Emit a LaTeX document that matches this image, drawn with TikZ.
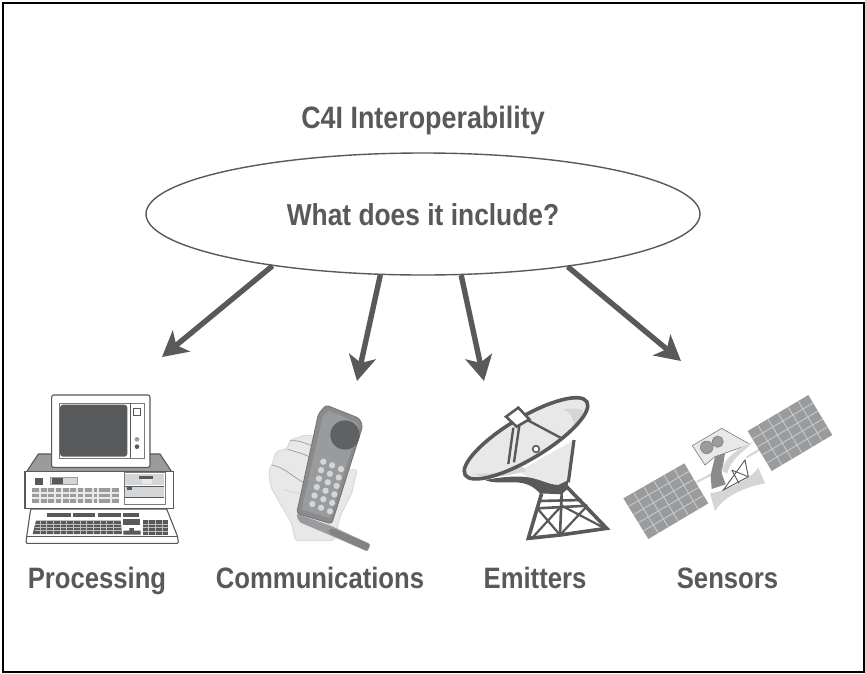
\documentclass[tikz,border=0pt]{standalone}
\usepackage{fontspec}
\setmainfont[FakeStretch=0.87]{Liberation Sans}
\usetikzlibrary{shapes.geometric,arrows.meta,calc}
\definecolor{ink}{HTML}{58595B}
\definecolor{mid}{HTML}{9A9B9D}
\definecolor{lite}{HTML}{D4D5D6}
\definecolor{pale}{HTML}{E8E8E9}
\tikzset{
 lab/.style={text=ink,font=\bfseries\fontsize{29.5}{32}\selectfont,inner sep=0pt,anchor=base},
 arrowline/.style={draw=ink,line width=5.4pt,-{Stealth[length=25pt,width=27pt,inset=6.5pt]}},
 zoomA/.style={shift={(10,380)},scale=1/3},
 zoomB/.style={shift={(250,390)},scale=1/3},
 zoomC/.style={shift={(450,385)},scale=1/3},
 zoomD/.style={shift={(615,385)},scale=1/3},
 thin ink/.style={draw=ink,line width=1.1pt},
}
\begin{document}
\begin{tikzpicture}[x=1pt,y=-1pt]
\useasboundingbox (0,0) rectangle (865,673);
\fill[white] (0,0) rectangle (865,673);
\draw[black,line width=2pt] (2.5,2.5) rectangle (863.5,671.5);

\node[lab,font=\bfseries\fontsize{30.9}{32}\selectfont] (title) at (423,128) {C4I Interoperability};
\node[ellipse,draw=ink,line width=1.4pt,minimum width=554pt,minimum height=122pt,inner sep=0pt] (q) at (423,214) {};
\node[lab,font=\bfseries\fontsize{30.3}{32}\selectfont] (ask) at (423,225) {What does it include?};

\coordinate (t1) at (162,357);
\coordinate (t2) at (357,381);
\coordinate (t3) at (484,381);
\coordinate (t4) at (681,361);
\draw[arrowline] (q.199) -- (t1);
\draw[arrowline] (q.235) -- (t2);
\draw[arrowline] (q.302) -- (t3);
\draw[arrowline] (q.340) -- (t4);

\node[lab] (l1) at (97,588) {Processing};
\node[lab] (l2) at (320,588) {Communications};
\node[lab] (l3) at (535,588) {Emitters};
\node[lab] (l4) at (727.5,588) {Sensors};

% computer
\begin{scope}[zoomA]
 \filldraw[fill=mid,thin ink] (50,275) -- (85,222) -- (450,222) -- (485,275) -- cycle;
 \filldraw[fill=white,thin ink] (45,275) rectangle (490,385);
 \filldraw[fill=white,thin ink,rounded corners=2pt] (125,45) rectangle (420,262);
 \filldraw[fill=white,draw=ink!80,line width=.8pt] (147,70) rectangle (402,234);
 \fill[ink,rounded corners=3pt] (150,74) rectangle (352,230);
 \draw[ink,line width=.7pt] (360,70) -- (360,234);
 \draw[ink,line width=.8pt] (371,84) rectangle (390,106);
 \fill[mid] (381,178) circle (7);
 \fill[ink] (381,200) circle (7);
 \fill[ink] (76,293) rectangle (100,314);
 \filldraw[fill=lite,draw=mid,line width=.5pt] (122,293) rectangle (202,314);
 \fill[ink] (125,295) rectangle (160,312);
 % vents
 \fill[mid] (67,323) rectangle (326,370);
 \foreach \xv in {88,110,132,154,176,198,220,246,262,300}
   \fill[pale] (\xv,323) rectangle +(5,47);
 \foreach \yv in {337,352}
   \fill[pale] (67,\yv) rectangle (326,\yv+4);
 % drive bay
 \filldraw[fill=white,draw=ink!80,line width=.8pt] (342,278) rectangle (465,372);
 \fill[lite] (345,282) rectangle (462,316);
 \fill[ink] (388,288) rectangle (430,296);
 \fill[pale] (395,296) rectangle (425,312);
 \fill[lite] (345,320) rectangle (462,353);
 \fill[ink] (352,322) rectangle (365,329);
 \draw[ink,line width=.7pt] (345,318) -- (462,318) (345,353) -- (462,353);
 % keyboard
 \filldraw[fill=white,thin ink,rounded corners=1pt] (62,387) -- (470,387) -- (503,470) -- (505,490) -- (48,490) -- (50,470) -- cycle;
 \draw[ink,line width=.7pt] (50,470) -- (503,470);
 \foreach \xa/\xb in {112/182,188/254,264/332,340/388}
   \fill[ink] (\xa,398) rectangle (\xb,412);
 \fill[ink] (78,422) -- (332,422) -- (336,462) -- (68,462) -- cycle;
 \fill[ink] (340,418) rectangle (390,436);
 \fill[ink] (358,444) -- (372,444) -- (372,452) -- (392,452) -- (392,464) -- (340,464) -- (340,452) -- (358,452) -- cycle;
 \fill[ink] (398,420) rectangle (474,464);
 \foreach \yv in {432,441,452}
   \draw[pale!70!ink,line width=.5pt] (74,\yv) -- (336,\yv);
 \foreach \xv in {90,110,130,150,170,190,210,230,250,270,290,310}
   \draw[pale!70!ink,line width=.5pt] (\xv,422) -- (\xv,462);
 \foreach \xv in {416,436,456}
   \draw[pale!70!ink,line width=.5pt] (\xv,420) -- (\xv,464);
 \foreach \yv in {432,443,454}
   \draw[pale!70!ink,line width=.5pt] (398,\yv) -- (474,\yv);
\end{scope}

% phone
\begin{scope}[zoomB]
 \filldraw[fill=pale,draw=lite,line width=.8pt,rounded corners=3pt] (56,240) -- (66,225) -- (78,185) -- (112,175) -- (120,150) -- (165,135) -- (200,140) -- (180,215) -- (300,240) -- (322,238) -- (305,310) -- (272,375) -- (252,452) -- (136,452) -- (125,400) -- (90,340) -- (62,290) -- cycle;
 \draw[mid,line width=.7pt] (112,178) .. controls (135,185) and (160,190) .. (182,203);
 \draw[mid,line width=.7pt] (120,152) .. controls (145,150) and (170,160) .. (190,170);
 \draw[mid,line width=.7pt] (66,225) .. controls (100,230) and (135,265) .. (165,280);
 \draw[lite,line width=.8pt] (100,300) -- (150,310);
 \filldraw[fill=mid,draw=mid,line width=.8pt,rounded corners=2pt] (140,372) -- (148,395) -- (235,432) -- (352,483) -- (360,463) -- (245,410) -- cycle;
 \fill[ink!75,rounded corners=1pt] (235,420) -- (240,432) -- (352,483) -- (360,463) -- (250,416) -- cycle;
 \filldraw[fill=ink!70,draw=ink!85,line width=.8pt,rounded corners=3pt] (205,72) -- (228,45) -- (328,85) -- (338,108) -- (245,402) -- (140,370) -- cycle;
 \fill[mid] (218,80) -- (236,62) -- (320,98) -- (326,112) -- (238,385) -- (155,358) -- cycle;
 \fill[ink!95] (285,135) circle (44);
 \foreach \r in {0,...,5}
  \foreach \c in {0,1,2}
   \fill[lite] ({220-6.6*\r+26.5*\c},{215+25.4*\r+11*\c}) circle (9.5);
\end{scope}

% dish
\begin{scope}[zoomC]
 \fill[pale] (205,260) -- (372,165) -- (358,290) -- (325,305) -- (250,285) -- cycle;
 \draw[ink,line width=3.2pt] (372,165) -- (355,292);
 \fill[ink] (105,285) .. controls (160,275) and (210,270) .. (250,280) .. controls (285,290) and (305,300) .. (325,300) -- (355,285) -- (352,312) -- (335,328) -- (270,325) .. controls (250,305) and (235,295) .. (200,292) .. controls (160,292) and (125,295) .. (105,285) -- cycle;
 \fill[pale,rotate around={31:(228,160)}] (228,160) ellipse [x radius=213,y radius=62];
 \fill[lite] (340,72) .. controls (375,70) and (395,70) .. (398,75) .. controls (397,95) and (385,115) .. (372,125) .. controls (372,105) and (365,85) .. (340,72) -- cycle;
 \fill[lite] (70,268) .. controls (120,265) and (170,265) .. (215,245) .. controls (225,250) and (228,255) .. (230,258) .. controls (180,270) and (120,285) .. (70,268) -- cycle;
 \draw[ink,line width=3.6pt,rotate around={31:(228,160)}] (228,160) ellipse [x radius=213,y radius=62];
 \draw[ink,line width=2.4pt] (190,128) -- (175,237) (208,122) -- (192,232) (232,105) -- (335,160);
 \filldraw[fill=white,draw=ink,line width=2.6pt] (168,95) -- (205,68) -- (238,103) -- (200,125) -- cycle;
 \filldraw[fill=white,draw=ink,line width=1.6pt] (258,192) circle (10);
 % tower
 \draw[ink,line width=3.6pt] (275,325) -- (235,460) -- (330,450) -- (470,430) -- (350,305);
 \draw[ink,line width=2.6pt] (335,325) -- (330,450);
 \draw[ink,line width=2.6pt] (268,348) -- (395,345) (262,370) -- (412,362);
 \draw[ink,line width=2.2pt] (262,370) -- (330,450) (335,362) -- (250,455) (335,362) -- (465,430) (412,362) -- (330,450);
\end{scope}

% satellite
\begin{scope}[zoomD]
 \draw[lite,line width=2pt] (245,291) -- (290,268) (395,217) -- (432,195);
 \fill[mid] (25,340) -- (208,235) -- (280,355) -- (100,462) -- cycle;
 \fill[mid] (398,138) -- (580,30) -- (652,150) -- (470,258) -- cycle;
 \foreach \k in {1,...,5}{
  \draw[lite!80!mid,line width=.9pt] ($(25,340)!\k/6!(208,235)$) -- ($(100,462)!\k/6!(280,355)$);
  \draw[lite!80!mid,line width=.9pt] ($(398,138)!\k/6!(580,30)$) -- ($(470,258)!\k/6!(652,150)$);
 }
 \foreach \k in {1,...,4}{
  \draw[lite!80!mid,line width=.9pt] ($(25,340)!\k/5!(100,462)$) -- ($(208,235)!\k/5!(280,355)$);
  \draw[lite!80!mid,line width=.9pt] ($(398,138)!\k/5!(470,258)$) -- ($(580,30)!\k/5!(652,150)$);
 }
 \filldraw[fill=pale,draw=ink!80,line width=.6pt] (232,182) -- (320,130) -- (405,178) -- (300,215) -- (270,240) -- cycle;
 \filldraw[fill=mid,draw=ink!80,line width=.5pt] (275,187) circle (19);
 \filldraw[fill=mid,draw=ink!80,line width=.5pt] (308,170) circle (17);
 \fill[ink!70] (300,215) -- (330,205) -- (320,265) -- (332,298) -- (290,312) -- (287,270) -- cycle;
 \fill[lite] (285,325) .. controls (320,320) and (400,290) .. (430,248) -- (450,295) .. controls (395,305) and (330,330) .. (300,378) -- cycle;
 \filldraw[fill=lite,draw=pale,line width=.5pt] (320,258) .. controls (330,215) and (370,190) .. (412,172) .. controls (395,195) and (350,215) .. (337,265) -- cycle;
 \draw[ink,line width=.9pt] (325,315) -- (390,225) -- (400,275) -- cycle (350,255) -- (400,275) (350,255) -- (372,295);
\end{scope}
\end{tikzpicture}
\end{document}
